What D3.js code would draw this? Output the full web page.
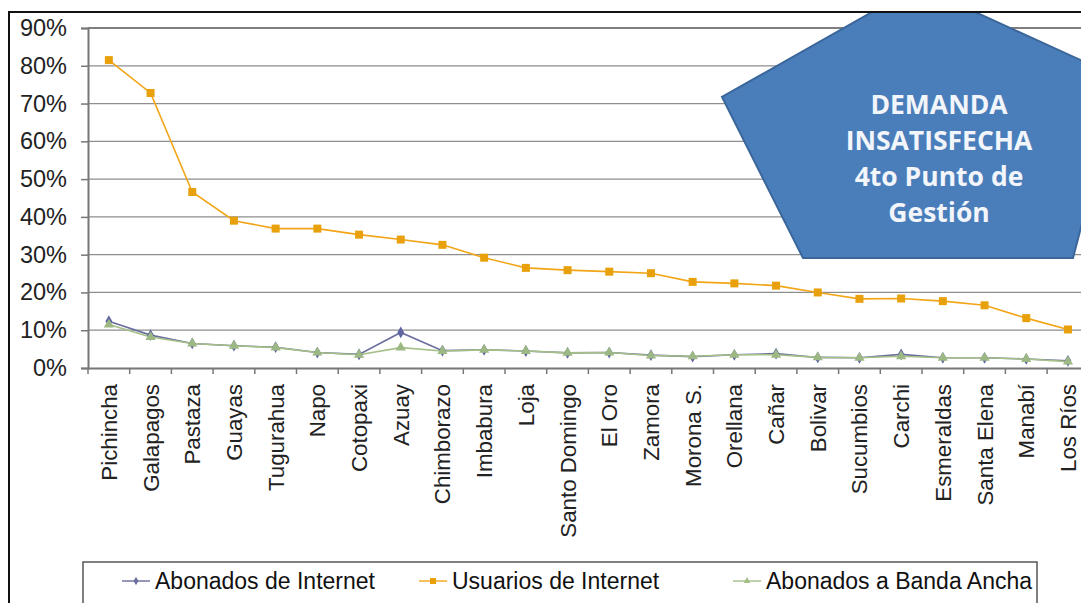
<!DOCTYPE html>
<html><head><meta charset="utf-8">
<script src="https://cdn.jsdelivr.net/npm/d3@7"></script>
<style>html,body{margin:0;padding:0;background:#fff;overflow:hidden}svg{display:block}</style>
</head><body>
<script>
const provinces = ["Pichincha","Galapagos","Pastaza","Guayas","Tugurahua","Napo","Cotopaxi","Azuay","Chimborazo","Imbabura","Loja","Santo Domingo","El Oro","Zamora","Morona S.","Orellana","Cañar","Bolivar","Sucumbios","Carchi","Esmeraldas","Santa Elena","Manabí","Los Ríos"];
const usuariosInternet = [81.5,72.8,46.6,39.0,36.9,36.9,35.3,34.0,32.6,29.2,26.5,25.9,25.5,25.1,22.8,22.4,21.8,20.0,18.3,18.4,17.7,16.6,13.2,10.2];
const abonadosInternet = [12.4,8.7,6.5,5.9,5.5,4.1,3.6,9.4,4.6,4.8,4.5,4.0,4.1,3.4,3.0,3.5,3.8,2.8,2.7,3.6,2.7,2.7,2.4,1.9];
const abonadosBanda = [11.5,8.2,6.5,5.9,5.4,4.1,3.5,5.4,4.5,4.8,4.5,4.0,4.1,3.3,3.1,3.5,3.5,2.8,2.7,3.1,2.7,2.7,2.4,1.7];
const yTicks = [0,10,20,30,40,50,60,70,80,90];
const seriesNames = ["Abonados de Internet","Usuarios de Internet","Abonados a Banda Ancha"];
const calloutLines = ["DEMANDA","INSATISFECHA","4to Punto de","Gestión"];

const W = 1081, H = 603;
const svg = d3.select("body").append("svg").attr("width", W).attr("height", H);

const plot = {left: 88, top: 28, bottom: 368, right: 88 + 41.7*24};
const x = d3.scaleBand().domain(provinces).range([plot.left, plot.right]);
const y = d3.scaleLinear().domain([0, 90]).range([plot.bottom, plot.top]);
const cx = d => x(d) + x.bandwidth()/2;
const FONT = "Liberation Sans, Arial, sans-serif";

// outer frame
svg.append("rect").attr("x", 9).attr("y", 12).attr("width", 1200).attr("height", 700)
  .attr("fill", "none").attr("stroke", "#111").attr("stroke-width", 2);

// gridlines
svg.append("g").selectAll("line").data(yTicks.filter(t => t > 0)).join("line")
  .attr("x1", plot.left).attr("x2", W).attr("y1", d => y(d)).attr("y2", d => y(d))
  .attr("stroke", d => d === 90 ? "#555" : "#8e8e8e").attr("stroke-width", d => d === 90 ? 1.5 : 1.2);

// y axis
const yAxis = svg.append("g").attr("transform", `translate(${plot.left},0)`)
  .call(d3.axisLeft(y).tickValues(yTicks).tickFormat(d => d + "%").tickSize(7).tickPadding(14));
yAxis.select(".domain").attr("stroke", "#777").attr("stroke-width", 2);
yAxis.selectAll(".tick line").attr("stroke", "#777").attr("stroke-width", 1.5);
yAxis.selectAll("text").attr("font-family", FONT).attr("font-size", 23.5).attr("fill", "#222");

// x axis
const xAxis = svg.append("g").attr("transform", `translate(0,${plot.bottom})`)
  .call(d3.axisBottom(x).tickSize(0).tickFormat(""));
xAxis.select(".domain").attr("stroke", "#777").attr("stroke-width", 2);
svg.append("g").selectAll("line").data(provinces.concat(["__end"])).join("line")
  .attr("x1", (d, i) => plot.left + i * x.step()).attr("x2", (d, i) => plot.left + i * x.step())
  .attr("y1", plot.bottom).attr("y2", plot.bottom + 6).attr("stroke", "#777").attr("stroke-width", 1.5);
svg.append("g").selectAll("text").data(provinces).join("text")
  .attr("transform", d => `translate(${cx(d)},384) rotate(-90)`)
  .attr("text-anchor", "end").attr("dy", "0.36em")
  .attr("font-family", FONT).attr("font-size", 22.3).attr("fill", "#222")
  .text(d => d);

// series
const line = d3.line().x((d, i) => cx(provinces[i])).y(d => y(d));
const col = {ab: "#6a6e9e", us: "#f2a516", ba: "#a5bf87"};
svg.append("path").datum(abonadosInternet).attr("d", line).attr("fill", "none").attr("stroke", col.ab).attr("stroke-width", 1.6);
svg.append("path").datum(abonadosBanda).attr("d", line).attr("fill", "none").attr("stroke", col.ba).attr("stroke-width", 1.6);
svg.append("path").datum(usuariosInternet).attr("d", line).attr("fill", "none").attr("stroke", col.us).attr("stroke-width", 1.6);

svg.append("g").selectAll("path").data(abonadosInternet).join("path")
  .attr("d", d3.symbol(d3.symbolDiamond, 40))
  .attr("transform", (d, i) => `translate(${cx(provinces[i])},${y(d)})`).attr("fill", "#6064a0");
svg.append("g").selectAll("path").data(abonadosBanda).join("path")
  .attr("d", d3.symbol(d3.symbolTriangle, 45))
  .attr("transform", (d, i) => `translate(${cx(provinces[i])},${y(d)})`).attr("fill", "#9cb883");
svg.append("g").selectAll("rect").data(usuariosInternet).join("rect")
  .attr("x", (d, i) => cx(provinces[i]) - 4).attr("y", d => y(d) - 4)
  .attr("width", 8).attr("height", 8).attr("fill", "#e8a10c");

// callout pentagon
svg.append("clipPath").attr("id", "clipTop").append("rect").attr("x", 0).attr("y", 12).attr("width", W).attr("height", H);
const pent = [[918,-14],[1120,78],[1073,258],[803,258],[722,97]];
svg.append("path").attr("clip-path", "url(#clipTop)")
  .attr("d", d3.line()(pent) + "Z")
  .attr("fill", "#4a7ebb").attr("stroke", "#3b669a").attr("stroke-width", 2);
svg.append("line").attr("x1", 9).attr("x2", W).attr("y1", 12).attr("y2", 12).attr("stroke", "#111").attr("stroke-width", 2);
svg.append("g").selectAll("text").data(calloutLines).join("text")
  .attr("x", 939).attr("y", (d, i) => 114 + i * 36)
  .attr("text-anchor", "middle").attr("font-family", "Open Sans, sans-serif").attr("font-weight", "bold")
  .attr("font-size", 26.5).attr("fill", "#f2f5fa").text(d => d);

// legend
svg.append("rect").attr("x", 83).attr("y", 562).attr("width", 954).attr("height", 80)
  .attr("fill", "#fff").attr("stroke", "#555").attr("stroke-width", 1.5);
const legX = [122, 419, 733];
const legCol = [col.ab, col.us, col.ba];
const lg = svg.append("g").selectAll("g").data(seriesNames).join("g")
  .attr("transform", (d, i) => `translate(${legX[i]},581)`);
lg.append("line").attr("x1", 0).attr("x2", 28).attr("stroke", (d, i) => legCol[i]).attr("stroke-width", 1.4);
lg.each(function(d, i) {
  const g = d3.select(this);
  if (i === 1) g.append("rect").attr("x", 11).attr("y", -3).attr("width", 6).attr("height", 6).attr("fill", "#e8a10c");
  else g.append("path").attr("d", d3.symbol(i === 0 ? d3.symbolDiamond : d3.symbolTriangle, 20)).attr("transform", "translate(14,0)").attr("fill", legCol[i]);
});
lg.append("text").attr("x", 33).attr("y", 8).attr("font-family", FONT)
  .attr("font-size", 23).attr("fill", "#111").text(d => d);
</script>
</body></html>
